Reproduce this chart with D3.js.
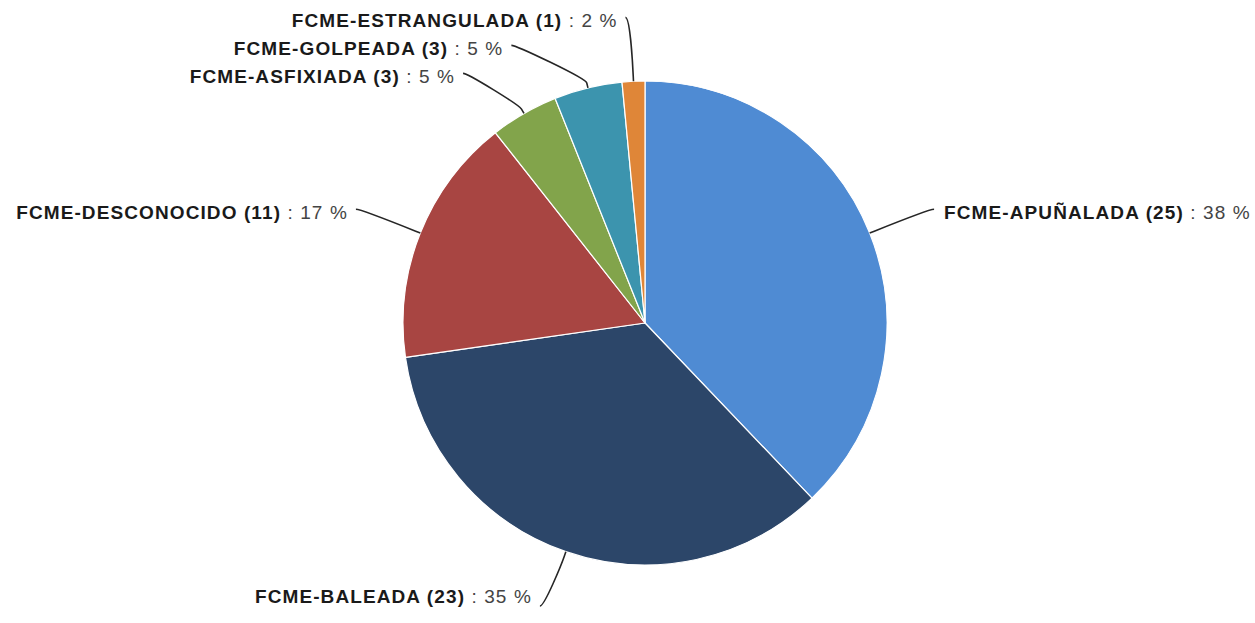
<!DOCTYPE html>
<html><head><meta charset="utf-8">
<script src="https://cdn.jsdelivr.net/npm/d3@7"></script>
<style>body{margin:0;background:#fff} svg{display:block}</style>
</head><body><svg id="c" width="1255" height="623"></svg>
<script>
const categories = ["FCME-APUÑALADA","FCME-BALEADA","FCME-DESCONOCIDO","FCME-ASFIXIADA","FCME-GOLPEADA","FCME-ESTRANGULADA"];
const counts = [25, 23, 11, 3, 3, 1];
const colors = ["#4f8bd3","#2c4669","#a84542","#82a44b","#3c94ae","#df8638"];

const W = 1255, H = 623;
const cx = 645, cy = 323, r = 242;
const labelR = 306, lineH = 28, maxY = 606;

const svg = d3.select("#c");
const total = d3.sum(counts);
const data = categories.map((c, i) => ({name: c, value: counts[i], color: colors[i]}));
const pie = d3.pie().sort(null).value(d => d.value);
const arcs = pie(data);
const arc = d3.arc().innerRadius(0).outerRadius(r);

const g = svg.append("g").attr("transform", `translate(${cx},${cy})`);
g.selectAll("path").data(arcs).join("path")
  .attr("d", arc).attr("fill", d => d.data.color)
  .attr("stroke", "#fff").attr("stroke-width", 1.2).attr("stroke-linejoin", "round");

const pt = (a, rho) => [cx + rho * Math.sin(a), cy - rho * Math.cos(a)];

const labels = arcs.map(d => {
  const a = (d.startAngle + d.endAngle) / 2;
  return {d, a, left: a > Math.PI, y: cy - labelR * Math.cos(a)};
});
["left", "right"].forEach(side => {
  const group = labels.filter(l => (side === "left") === l.left).sort((p, q) => p.y - q.y);
  for (let i = 1; i < group.length; i++) {
    if (group[i].y < group[i-1].y + lineH) group[i].y = group[i-1].y + lineH;
  }
});
labels.forEach(l => {
  const dy = Math.max(-labelR, Math.min(labelR, l.y - cy));
  const dx = Math.sqrt(labelR * labelR - dy * dy);
  l.x = l.left ? cx - dx : cx + dx;
  l.y = Math.min(l.y, maxY);
});

labels.forEach(l => {
  const edge = pt(l.a, r), p2 = pt(l.a, r + 5), c2 = pt(l.a, r + 10);
  const sx = l.left ? l.x - 5 : l.x + 5;
  const path = `M${sx},${l.y} C${l.x},${l.y} ${c2[0]},${c2[1]} ${p2[0]},${p2[1]} L${edge[0]},${edge[1]}`;
  svg.append("path").attr("d", path).attr("fill", "none")
    .attr("stroke", "#262626").attr("stroke-width", 1.6);
  const pct = Math.round(l.d.data.value / total * 100);
  const t = svg.append("text")
    .attr("x", l.left ? l.x - 13 : l.x + 15)
    .attr("y", Math.min(l.y + 9.5, 603))
    .attr("text-anchor", l.left ? "end" : "start")
    .attr("font-family", "'Liberation Sans', Arial, sans-serif")
    .attr("font-size", 19).attr("letter-spacing", 1.1);
  t.append("tspan").attr("font-weight", "bold").attr("fill", "#1a1a1a")
    .text(`${l.d.data.name} (${l.d.data.value})`);
  t.append("tspan").attr("fill", "#444").text(` : ${pct} %`);
});
</script></body></html>
